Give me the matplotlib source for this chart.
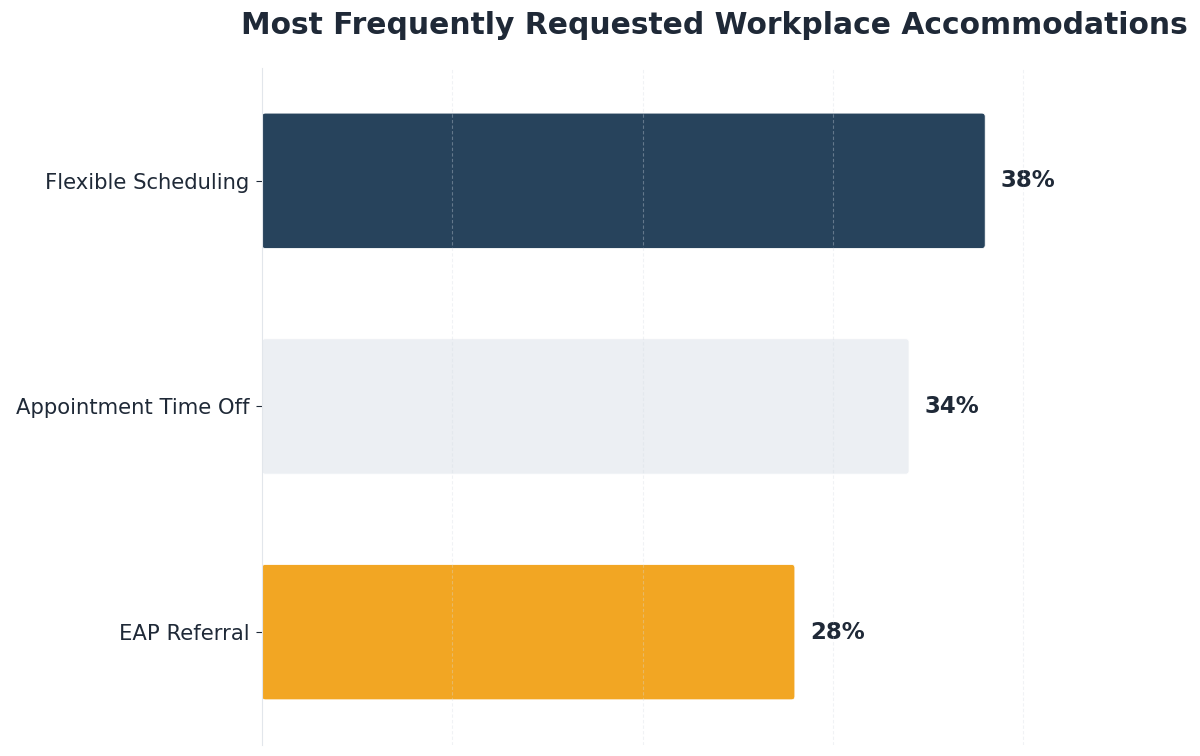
import matplotlib
matplotlib.use("Agg")
import matplotlib.pyplot as plt
from matplotlib.patches import FancyBboxPatch

# данные
categories = ["Flexible Scheduling", "Appointment Time Off", "EAP Referral"]
values = [38, 34, 28]
bar_colors = ["#27435C", "#ECEFF3", "#F2A623"]

text_color = "#1F2937"

fig = plt.figure(figsize=(12, 7.56), dpi=100)
ax = fig.add_axes([0.2183, 0.0146, 0.7534, 0.8955])

y_pos = list(range(len(categories)))
bar_h = 0.6

# скруглённые бары
for y, v, c in zip(y_pos, values, bar_colors):
    patch = FancyBboxPatch((0, y - bar_h / 2), v, bar_h,
                           boxstyle="round,pad=0,rounding_size=0.18",
                           mutation_aspect=0.085,
                           facecolor=c, edgecolor="white", linewidth=0.6,
                           zorder=2)
    ax.add_patch(patch)
    ax.text(v + 0.8, y, f"{v}%", va="center", ha="left",
            fontsize=16.5, fontweight="bold", color=text_color)

ax.set_xlim(0, 47.5)
ax.set_ylim(2.5, -0.5)
ax.set_yticks(y_pos)
ax.set_yticklabels(categories, fontsize=15.2, color=text_color)
ax.set_xticks([10, 20, 30, 40])
ax.tick_params(axis="x", length=0, labelbottom=False)
ax.tick_params(axis="y", length=4, color=text_color, pad=5)

# сетка поверх баров
for gx in [10, 20, 30, 40]:
    ax.axvline(gx, color="#D5DCE3", linestyle=(0, (3, 2)), linewidth=0.8,
               alpha=0.35, zorder=3)

for s in ["top", "right", "bottom"]:
    ax.spines[s].set_visible(False)
ax.spines["left"].set_color("#E2E6EB")

fig.suptitle("Most Frequently Requested Workplace Accommodations",
             x=0.595, y=0.985, fontsize=21.4, fontweight="bold",
             color=text_color, va="top")

fig.savefig("out.png", dpi=100)
